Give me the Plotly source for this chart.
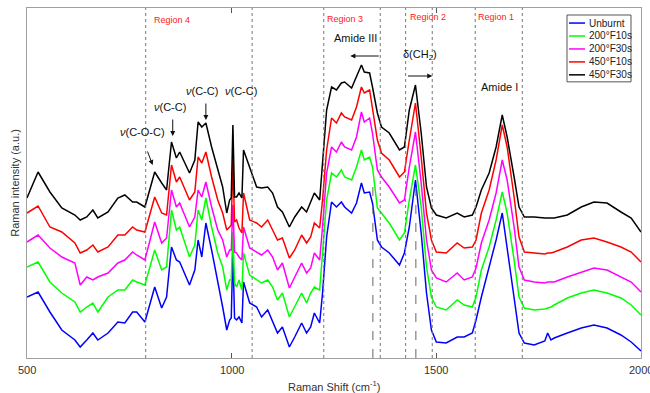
import plotly.graph_objects as go

# ---- data (arbitrary intensity units) ----
shift = [500, 527, 556, 585, 617, 630, 646, 661, 673, 698, 722, 739, 758, 768, 788,
         812, 829, 841, 853, 865, 873, 897, 910, 918, 927, 937, 951, 966, 978, 988,
         995, 999, 1003, 1007, 1012, 1018, 1025, 1029, 1044, 1061, 1073, 1088, 1100,
         1112, 1124, 1141, 1154, 1171, 1183, 1193, 1202, 1215, 1222, 1232, 1244, 1256,
         1268, 1276, 1293, 1305, 1317, 1324, 1337, 1344, 1356, 1366, 1385, 1410, 1422,
         1434, 1449, 1463, 1476, 1488, 1500, 1524, 1551, 1568, 1588, 1597, 1610, 1629,
         1646, 1661, 1673, 1690, 1702, 1715, 1739, 1765, 1772, 1780, 1788, 1820, 1854,
         1885, 1917, 1951, 1976, 2000]

unburnt = [61, 66, 46, 28, 18, 11, 18, 25, 18, 25, 36, 35, 46, 46, 36,
           71, 50, 61, 111, 98, 96, 73, 88, 118, 101, 135, 108, 78, 51, 28,
           38, 40, 108, 40, 38, 41, 35, 76, 55, 51, 41, 48, 36,
           25, 31, 11, 21, 35, 25, 31, 45, 35, 65, 121, 156, 151,
           156, 151, 145, 155, 175, 165, 166, 155, 118, 111, 105, 93, 105,
           131, 178, 125, 65, 28, 16, 15, 21, 21, 25, 38, 61, 91,
           118, 145, 111, 61, 25, 15, 13, 17, 25, 18, 20, 25, 30,
           33, 30, 23, 16, 7]

f200_10 = [91, 96, 76, 65, 56, 46, 51, 55, 46, 61, 68, 68, 78, 76, 73,
           108, 88, 91, 148, 128, 131, 101, 113, 148, 138, 160, 131, 105, 91, 68,
           78, 78, 126, 75, 71, 78, 68, 105, 83, 78, 75, 78, 71,
           58, 65, 41, 51, 65, 55, 65, 71, 68, 105, 158, 185, 181,
           188, 181, 178, 191, 208, 198, 201, 191, 150, 145, 135, 118, 125,
           158, 193, 151, 91, 61, 51, 48, 58, 53, 51, 61, 88, 111,
           138, 166, 145, 98, 61, 50, 48, 49, 50, 51, 53, 60, 65,
           68, 65, 60, 53, 43]

f200_30 = [116, 123, 110, 101, 95, 73, 81, 78, 81, 85, 95, 98, 106, 103, 98,
           136, 115, 120, 168, 151, 155, 131, 141, 168, 161, 176, 151, 128, 118, 101,
           108, 108, 153, 106, 105, 101, 98, 131, 110, 106, 103, 108, 101,
           88, 95, 70, 81, 95, 85, 90, 105, 98, 131, 185, 211, 206,
           216, 211, 208, 221, 246, 236, 240, 225, 188, 181, 171, 155, 158,
           191, 226, 175, 118, 88, 80, 76, 85, 78, 81, 90, 115, 138,
           165, 198, 178, 131, 91, 78, 76, 75, 76, 76, 76, 81, 86,
           90, 88, 81, 76, 66]

f450_10 = [145, 152, 131, 126, 115, 105, 108, 113, 106, 111, 123, 123, 131, 128, 126,
           161, 145, 143, 193, 176, 181, 158, 166, 201, 195, 206, 181, 158, 145, 128,
           131, 133, 198, 136, 138, 130, 125, 165, 138, 135, 131, 138, 128,
           118, 120, 100, 108, 123, 115, 121, 135, 130, 158, 208, 240, 235,
           245, 241, 238, 251, 271, 265, 268, 251, 218, 205, 198, 181, 186,
           218, 255, 201, 145, 118, 106, 105, 115, 110, 111, 118, 145, 168,
           198, 233, 211, 161, 121, 106, 105, 104, 105, 105, 106, 111, 118,
           120, 116, 111, 106, 96]

f450_30 = [160, 186, 166, 150, 143, 138, 141, 148, 140, 146, 160, 163, 156, 156, 151,
           186, 175, 168, 216, 200, 206, 185, 198, 236, 231, 235, 211, 188, 171, 145,
           158, 160, 233, 161, 161, 165, 160, 208, 191, 171, 170, 171, 165,
           151, 146, 131, 141, 151, 146, 156, 165, 158, 198, 248, 271, 268,
           275, 276, 270, 281, 293, 286, 285, 271, 245, 231, 225, 208, 211,
           248, 273, 225, 171, 150, 143, 140, 145, 141, 143, 151, 168, 185,
           211, 243, 221, 181, 151, 141, 141, 140, 140, 140, 140, 143, 151,
           156, 155, 146, 140, 126]

series_names = ["Unburnt", "200°F10s", "200°F30s", "450°F10s", "450°F30s"]
series_values = [unburnt, f200_10, f200_30, f450_10, f450_30]
series_colors = ["#0000ff", "#00ff00", "#ff00ff", "#ff0000", "#000000"]

tick_values = [500, 1000, 1500, 2000]
tick_labels = ["500", "1000", "1500", "2000"]

dotted_lines = [790, 1050, 1225, 1363, 1425, 1490, 1595, 1710]
dashed_lines = [1345, 1450]
dashed_top = 178

region_labels = ["Region 4", "Region 3", "Region 2", "Region 1"]
region_x = [805, 1229, 1430, 1598]
region_y = [338, 339, 341, 341]

band_labels = ["Amide III", "δ(CH<sub>2</sub>)", "Amide I",
               "<i>ν</i>(C-O-C)", "<i>ν</i>(C-C)", "<i>ν</i>(C-C)", "<i>ν</i>(C-C)"]
band_x = [1302, 1459, 1654, 783, 849, 927, 1022]
band_y = [320, 303, 271, 226, 251, 267, 267]

# arrows: (tail x, tail y, head x, head y)
arrows = [(1363, 302, 1290, 302),
          (1427, 282, 1490, 282),
          (793, 208, 807, 193),
          (856, 240, 856, 222),
          (937, 256, 937, 238)]

FONT = "Liberation Sans, Arial, sans-serif"

fig = go.Figure()
for name, vals, col in zip(series_names, series_values, series_colors):
    fig.add_trace(go.Scatter(x=shift, y=vals, mode="lines", name=name,
                             line=dict(color=col, width=1.5), showlegend=False))

for xv in dotted_lines:
    fig.add_shape(type="line", xref="x", yref="paper", x0=xv, x1=xv, y0=0, y1=1,
                  line=dict(color="#777777", width=1, dash="dot"))
for xv in dashed_lines:
    fig.add_shape(type="line", xref="x", yref="y", x0=xv, x1=xv, y0=0, y1=dashed_top,
                  line=dict(color="#666666", width=1, dash="dash"))

for t, xv, yv in zip(region_labels, region_x, region_y):
    fig.add_annotation(x=xv, y=yv, xref="x", yref="y", text=t, showarrow=False,
                       xanchor="left", yanchor="middle",
                       font=dict(family=FONT, size=9, color="#ff2020"))

for t, xv, yv in zip(band_labels, band_x, band_y):
    fig.add_annotation(x=xv, y=yv, xref="x", yref="y", text=t, showarrow=False,
                       xanchor="center", yanchor="middle",
                       font=dict(family=FONT, size=11, color="#111111"))

for (tx, ty, hx, hy) in arrows:
    fig.add_annotation(x=hx, y=hy, ax=tx, ay=ty, xref="x", yref="y", axref="x", ayref="y",
                       text="", showarrow=True, arrowhead=2, arrowsize=1, arrowwidth=1,
                       arrowcolor="#111111")

# ---- compact legend (box, colour swatches, labels) ----
leg_x0, leg_x1, leg_y0, leg_y1 = 0.8795, 0.9837, 0.789, 0.980
leg_rows = [0.957, 0.920, 0.883, 0.846, 0.809]
fig.add_shape(type="rect", xref="paper", yref="paper", x0=leg_x0, x1=leg_x1,
              y0=leg_y0, y1=leg_y1, line=dict(color="#555555", width=1),
              fillcolor="white", layer="above")
for name, col, ry in zip(series_names, series_colors, leg_rows):
    fig.add_shape(type="line", xref="paper", yref="paper", x0=0.8827, x1=0.9088,
                  y0=ry, y1=ry, line=dict(color=col, width=1.5), layer="above")
    fig.add_annotation(x=0.9115, y=ry, xref="paper", yref="paper", text=name,
                       showarrow=False, xanchor="left", yanchor="middle",
                       font=dict(family=FONT, size=10, color="#222222"))

# y-axis title
fig.add_annotation(x=-0.02, y=0.5, xref="paper", yref="paper",
                   text="Raman intensity (a.u.)", textangle=-90, showarrow=False,
                   xanchor="center", yanchor="middle",
                   font=dict(family=FONT, size=11, color="#333333"))

# tick labels drawn as annotations so the right-most one is not dropped
for tv, tl in zip(tick_values, tick_labels):
    fig.add_annotation(x=tv, y=0, xref="x", yref="paper", yshift=-4, text=tl,
                       showarrow=False, xanchor="center", yanchor="top",
                       font=dict(family=FONT, size=11, color="#333333"))

fig.add_annotation(x=0.5, y=0, xref="paper", yref="paper", yshift=-19,
                   text="Raman Shift (cm<sup>-1</sup>)", showarrow=False,
                   xanchor="center", yanchor="top",
                   font=dict(family=FONT, size=11, color="#333333"))

fig.update_layout(
    width=650, height=393,
    margin=dict(l=27, r=9, t=8, b=35),
    paper_bgcolor="white", plot_bgcolor="white",
    font=dict(family=FONT, size=11, color="#333333"),
    showlegend=False,
    xaxis=dict(range=[500, 2000], tickvals=tick_values, showticklabels=False,
               ticks="inside", ticklen=5, tickcolor="#555555",
               showline=True, mirror="ticks", linecolor="#a0a0a0", linewidth=1,
               showgrid=False, zeroline=False),
    yaxis=dict(range=[0, 350], showticklabels=False, ticks="",
               showline=True, mirror=True, linecolor="#a0a0a0", linewidth=1,
               showgrid=False, zeroline=False),
)

fig.write_html("out.html")
